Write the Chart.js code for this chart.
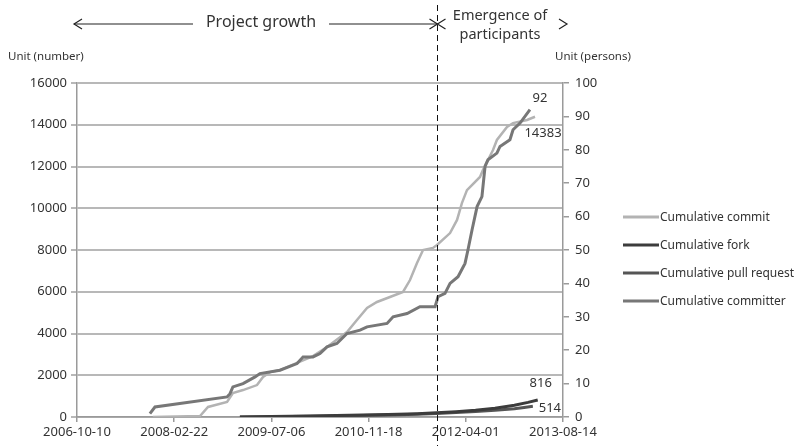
<!DOCTYPE html>
<html>
<head>
<meta charset="utf-8">
<script src="https://cdn.jsdelivr.net/npm/chart.js@4.4.0/dist/chart.umd.min.js"></script>
<style>
  html, body { margin: 0; padding: 0; background: #fff; }
</style>
</head>
<body>
<canvas id="growth-chart" width="806" height="446"></canvas>
<script>
// x values are days counted from 2006-10-10, one axis tick every 500 days
const tickLabels = ['2006-10-10', '2008-02-22', '2009-07-06', '2010-11-18', '2012-04-01', '2013-08-14'];
const dividerDay = 1852;

const commitDays = [390, 633, 674, 772, 802, 854, 926, 957, 993, 1044, 1132, 1214, 1286, 1389, 1440, 1492, 1543, 1610, 1677, 1713, 1749, 1780, 1831, 1852, 1919, 1955, 1980, 2006, 2073, 2088, 2140, 2160, 2212, 2243, 2315, 2356];
const commitValues = [0, 50, 480, 720, 1150, 1290, 1530, 1920, 2150, 2250, 2590, 2920, 3350, 4070, 4650, 5220, 5510, 5750, 5990, 6560, 7380, 8000, 8100, 8240, 8810, 9440, 10250, 10870, 11500, 11830, 12790, 13270, 13890, 14080, 14230, 14383];

const forkDays = [838, 1000, 1200, 1400, 1600, 1750, 1850, 1950, 2050, 2150, 2250, 2320, 2370];
const forkValues = [0, 20, 50, 80, 120, 160, 200, 250, 320, 420, 560, 700, 816];

const pullDays = [838, 1000, 1200, 1400, 1600, 1750, 1850, 1950, 2050, 2150, 2250, 2300, 2345];
const pullValues = [0, 15, 40, 65, 100, 135, 170, 210, 260, 320, 400, 460, 514];

const committerDays = [375, 401, 772, 787, 802, 854, 916, 941, 1044, 1132, 1163, 1214, 1250, 1286, 1337, 1389, 1456, 1492, 1595, 1626, 1698, 1764, 1842, 1857, 1893, 1919, 1960, 1996, 2011, 2032, 2058, 2083, 2099, 2114, 2160, 2176, 2227, 2243, 2279, 2330];
const committerValues = [1, 3, 6, 7, 9, 10, 12, 13, 14, 16, 18, 18, 19, 21, 22, 25, 26, 27, 28, 30, 31, 33, 33, 36, 37, 40, 42, 46, 50, 56, 63, 66, 75, 77, 79, 81, 83, 86, 88, 92];

const FONT = "'Noto Sans', sans-serif";
const TEXT = '#333';

function toPoints(days, values) {
  return days.map((d, i) => ({ x: d, y: values[i] }));
}

// where the end value of each line is written, relative to its last point
const endLabelOffsets = [
  { dx: 8, dy: 17 },   // commit
  { dx: 3, dy: -17 },  // fork
  { dx: 17, dy: 2 },   // pull request
  { dx: 10, dy: -11 }  // committer
];

const endLabels = {
  id: 'endLabels',
  afterDatasetsDraw(chart) {
    const ctx = chart.ctx;
    ctx.save();
    ctx.font = '13px ' + FONT;
    ctx.fillStyle = TEXT;
    ctx.textAlign = 'center';
    ctx.textBaseline = 'middle';
    chart.data.datasets.forEach((ds, i) => {
      const meta = chart.getDatasetMeta(i);
      const last = meta.data[meta.data.length - 1];
      const off = endLabelOffsets[i];
      ctx.fillText(String(ds.data[ds.data.length - 1].y), last.x + off.dx, last.y + off.dy);
    });
    ctx.restore();
  }
};

// legend on the right: short line + label
const sideLegend = {
  id: 'sideLegend',
  afterDraw(chart) {
    const ctx = chart.ctx;
    const rows = [217, 245, 273, 301];
    ctx.save();
    ctx.font = '12px ' + FONT;
    ctx.textBaseline = 'middle';
    chart.data.datasets.forEach((ds, i) => {
      ctx.strokeStyle = ds.borderColor;
      ctx.lineWidth = 3;
      ctx.beginPath();
      ctx.moveTo(623, rows[i]);
      ctx.lineTo(659, rows[i]);
      ctx.stroke();
      ctx.fillStyle = TEXT;
      ctx.fillText(ds.label, 660, rows[i] + 1);
    });
    ctx.restore();
  }
};

function chevron(ctx, x, y, dir) {
  ctx.beginPath();
  ctx.moveTo(x - dir * 8, y - 5);
  ctx.lineTo(x, y);
  ctx.lineTo(x - dir * 8, y + 5);
  ctx.stroke();
}

// phase divider, arrows and unit captions
const phases = {
  id: 'phases',
  afterDraw(chart) {
    const ctx = chart.ctx;
    const x = Math.round(chart.scales.x.getPixelForValue(dividerDay)) + 0.5;
    ctx.save();
    ctx.strokeStyle = '#111';
    ctx.lineWidth = 1;
    ctx.setLineDash([6, 4]);
    ctx.beginPath();
    ctx.moveTo(x, 5);
    ctx.lineTo(x, 446);
    ctx.stroke();
    ctx.setLineDash([]);

    const ay = 24;
    ctx.lineWidth = 1.2;
    ctx.strokeStyle = '#222';
    ctx.beginPath();
    ctx.moveTo(74, ay);
    ctx.lineTo(193, ay);
    ctx.moveTo(329, ay);
    ctx.lineTo(x, ay);
    ctx.stroke();
    chevron(ctx, 74, ay, -1);
    chevron(ctx, x, ay, 1);
    chevron(ctx, x, ay, -1);
    chevron(ctx, 567, ay, 1);

    ctx.fillStyle = TEXT;
    ctx.textBaseline = 'middle';
    ctx.textAlign = 'center';
    ctx.font = '16px ' + FONT;
    ctx.fillText('Project growth', 261, 22);
    ctx.font = '14.5px ' + FONT;
    ctx.fillText('Emergence of', 500, 16);
    ctx.fillText('participants', 500, 35);

    ctx.font = '11.5px ' + FONT;
    ctx.textAlign = 'left';
    ctx.fillText('Unit (number)', 8, 57);
    ctx.fillText('Unit (persons)', 555, 57);
    ctx.restore();
  }
};

new Chart(document.querySelector('#growth-chart').getContext('2d'), {
  type: 'line',
  data: {
    datasets: [
      {
        label: 'Cumulative commit',
        data: toPoints(commitDays, commitValues),
        borderColor: '#b3b3b3',
        borderWidth: 2.5,
        yAxisID: 'y',
        order: 3
      },
      {
        label: 'Cumulative fork',
        data: toPoints(forkDays, forkValues),
        borderColor: '#3c3c3c',
        borderWidth: 3,
        yAxisID: 'y',
        order: 1
      },
      {
        label: 'Cumulative pull request',
        data: toPoints(pullDays, pullValues),
        borderColor: '#555555',
        borderWidth: 3,
        yAxisID: 'y',
        order: 2
      },
      {
        label: 'Cumulative committer',
        data: toPoints(committerDays, committerValues),
        borderColor: '#777777',
        borderWidth: 3,
        yAxisID: 'y1',
        order: 0
      }
    ]
  },
  options: {
    responsive: false,
    animation: false,
    events: [],
    elements: { point: { radius: 0 }, line: { tension: 0 } },
    layout: { padding: { top: 83, right: 198, bottom: 0, left: 0 } },
    plugins: {
      legend: { display: false },
      tooltip: { enabled: false }
    },
    scales: {
      x: {
        type: 'linear',
        min: 0,
        max: 2500,
        afterFit: s => { s.height = 29; },
        ticks: {
          stepSize: 500,
          autoSkip: false,
          maxRotation: 0,
          padding: 2,
          color: TEXT,
          font: { family: FONT, size: 13 },
          callback: v => tickLabels[v / 500]
        },
        grid: { drawOnChartArea: false, drawTicks: true, tickLength: 5, color: '#9a9a9a', lineWidth: 1.5 },
        border: { color: '#9a9a9a', width: 1.5 }
      },
      y: {
        position: 'left',
        min: 0,
        max: 16000,
        afterFit: s => { s.width = 77; },
        ticks: {
          stepSize: 2000,
          padding: 4,
          color: TEXT,
          font: { family: FONT, size: 13 },
          callback: v => String(v)
        },
        grid: { color: '#b8b8b8', lineWidth: 2, tickLength: 6 },
        border: { color: '#9a9a9a', width: 1.5 }
      },
      y1: {
        position: 'right',
        min: 0,
        max: 100,
        afterFit: s => { s.width = 45; },
        ticks: {
          stepSize: 10,
          padding: 6,
          color: TEXT,
          font: { family: FONT, size: 13 }
        },
        grid: { drawOnChartArea: false, tickLength: 6, color: '#9a9a9a', lineWidth: 1.5 },
        border: { color: '#9a9a9a', width: 1.5 }
      }
    }
  },
  plugins: [endLabels, sideLegend, phases]
});
</script>
</body>
</html>
